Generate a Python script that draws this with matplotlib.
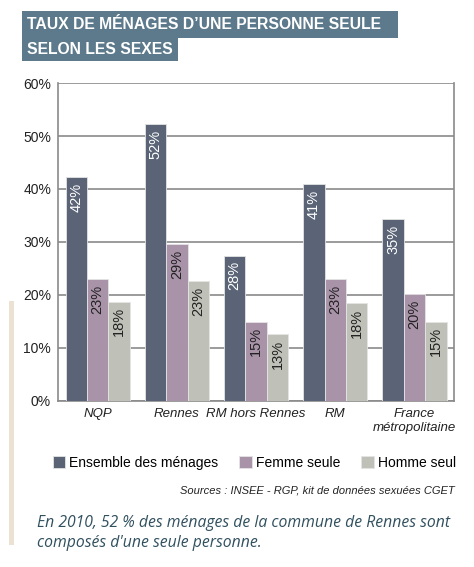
import matplotlib
matplotlib.use("Agg")
from matplotlib import pyplot as plt
from matplotlib.patches import Rectangle
import numpy as np

# data
categories = ["NQP", "Rennes", "RM hors Rennes", "RM", "France\nmétropolitaine"]
ensemble = [42.2, 52.2, 27.4, 40.9, 34.3]
femme = [23.0, 29.6, 14.9, 23.0, 20.1]
homme = [18.7, 22.6, 12.6, 18.4, 14.9]
ensemble_lbl = [42, 52, 28, 41, 35]
femme_lbl = [23, 29, 15, 23, 20]
homme_lbl = [18, 23, 13, 18, 15]
series_names = ["Ensemble des ménages", "Femme seule", "Homme seul"]
yticks = [0, 10, 20, 30, 40, 50, 60]

colors = ["#5a6476", "#a993a9", "#bfc0b7"]
txt_colors = ["white", "#222222", "#222222"]
plt.rcParams['font.family'] = ["Liberation Sans", "DejaVu Sans"]

fig = plt.figure(figsize=(4.74, 5.67), dpi=100)

# faint beige strip on the left (background photo edge)
fig.patches.append(Rectangle((0.018, 0.039), 0.012, 0.43, transform=fig.transFigure,
                             fc="#ebe2d2", ec="none", zorder=0))

ax = fig.add_axes([0.1224, 0.2928, 0.8356, 0.5608])

x = np.arange(len(categories))
w = 0.27
series = [ensemble, femme, homme]
labels = [ensemble_lbl, femme_lbl, homme_lbl]
for k in range(3):
    pos = x + (k - 1) * w
    ax.bar(pos, series[k], width=w, color=colors[k], zorder=3,
           edgecolor="#e4e4e4", linewidth=0.6, label=series_names[k])
    for xi, v, lb in zip(pos, series[k], labels[k]):
        ax.text(xi, v - 1.0, "%d%%" % lb, rotation=90, ha="center", va="top",
                color=txt_colors[k], fontsize=10.5, zorder=4)

ax.set_xlim(-0.5, len(categories) - 0.5)
ax.set_ylim(0, 60)
ax.set_yticks(yticks)
ax.set_yticklabels(["%d%%" % t for t in yticks], fontsize=10, color="#222222")
ax.set_xticks(x)
ax.set_xticklabels(categories, fontsize=9.5, style="italic", linespacing=1.2,
                   color="#222222")
ax.tick_params(axis="both", length=0, pad=5)
ax.grid(axis="y", color="#8a8a8a", linewidth=1.2, zorder=0)
for s in ax.spines.values():
    s.set_color("#8a8a8a")
    s.set_linewidth(1.2)
ax.spines["top"].set_visible(False)

# title boxes
tcol = "#5c7a8b"
fig.patches.append(Rectangle((0.0464, 0.933), 0.793, 0.0476, transform=fig.transFigure,
                             fc=tcol, ec="none"))
fig.patches.append(Rectangle((0.0464, 0.8924), 0.329, 0.0410, transform=fig.transFigure,
                             fc=tcol, ec="none"))
fig.text(0.058, 0.9568, "TAUX DE MÉNAGES D\u2019UNE PERSONNE SEULE", fontsize=11.3,
         color="white", fontweight="bold", va="center")
fig.text(0.058, 0.9127, "SELON LES SEXES", fontsize=11.3,
         color="white", fontweight="bold", va="center")

# legend
fig.legend(loc="center right", bbox_to_anchor=(0.962, 0.1834), ncol=3,
           frameon=False, fontsize=10, handlelength=0.9, handleheight=0.9,
           handletextpad=0.3, columnspacing=1.5, borderaxespad=0, borderpad=0)

fig.text(0.96, 0.1358, "Sources : INSEE - RGP, kit de données sexuées CGET",
         ha="right", va="center", fontsize=8, style="italic", color="#222222")
fig.text(0.078, 0.0595, "En 2010, 52 % des ménages de la commune de Rennes sont\ncomposés d'une seule personne.",
         ha="left", va="center", fontsize=11.3, style="italic", color="#31505f",
         family=["Open Sans", "DejaVu Sans"], linespacing=1.35)

fig.savefig("out.png", dpi=100)
